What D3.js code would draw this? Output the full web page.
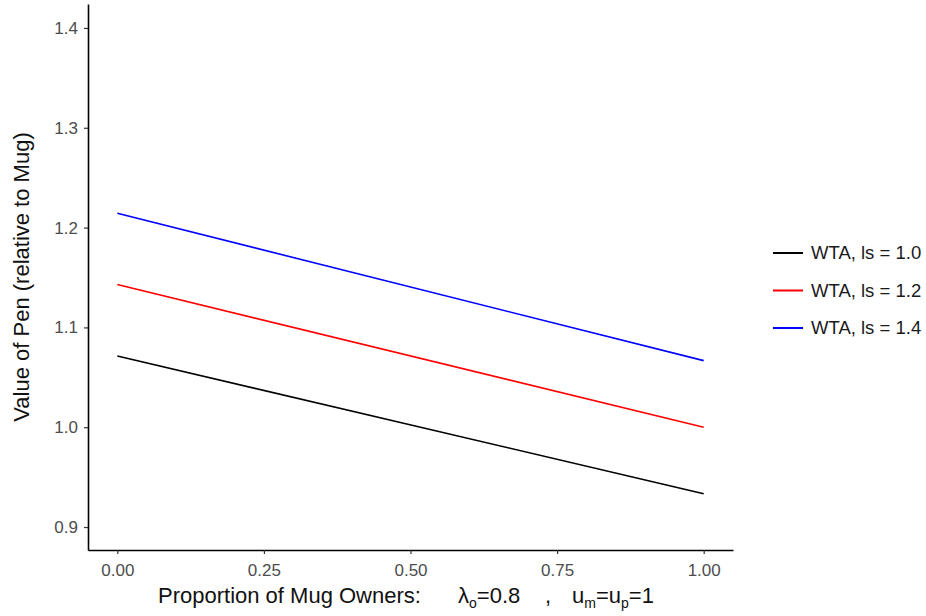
<!DOCTYPE html>
<html>
<head>
<meta charset="utf-8">
<script src="https://cdn.jsdelivr.net/npm/d3@7"></script>
<style>
  body { margin: 0; background: #fff; }
  svg { font-family: "Liberation Sans", Arial, sans-serif; }
  .tick line { stroke: #333; stroke-width: 1.2px; }
  .domain { stroke: #000; stroke-width: 1.6px; }
</style>
</head>
<body>
<svg width="926" height="616"></svg>
<script>
// proportion of mug owners (x) and the value of the pen for each series
const owners = [0, 1];
const wtaLs10 = [1.0714, 0.9333];
const wtaLs12 = [1.1429, 1.0];
const wtaLs14 = [1.2143, 1.0667];

const seriesNames = ["WTA, ls = 1.0", "WTA, ls = 1.2", "WTA, ls = 1.4"];
const seriesColors = ["#000000", "#ff0000", "#0000ff"];

const xTicks = [0, 0.25, 0.5, 0.75, 1];
const yTicks = [0.9, 1.0, 1.1, 1.2, 1.3, 1.4];

const series = [wtaLs10, wtaLs12, wtaLs14].map((vals, i) => ({
    name: seriesNames[i],
    color: seriesColors[i],
    points: owners.map((x, j) => ({ x: x, y: vals[j] }))
}));

const svg = d3.select("svg");

const xScale = d3.scaleLinear()
    .domain([-0.05, 1.05])
    .range([88, 733]);

const yScale = d3.scaleLinear()
    .domain([0.877, 1.424])
    .range([550, 4]);

const line = d3.line()
    .x((d) => xScale(d.x))
    .y((d) => yScale(d.y));

svg.append("g")
    .attr("transform", "translate(0,550)")
    .call(d3.axisBottom(xScale)
        .tickValues(xTicks)
        .tickFormat(d3.format(".2f"))
        .tickSize(4)
        .tickSizeOuter(0))
    .call((g) => g.selectAll(".tick text")
        .attr("y", 26).attr("dy", 0)
        .style("font-size", "17px").style("fill", "#4d4d4d"));

svg.append("g")
    .attr("transform", "translate(88,0)")
    .call(d3.axisLeft(yScale)
        .tickValues(yTicks)
        .tickFormat(d3.format(".1f"))
        .tickSize(4)
        .tickSizeOuter(0))
    .call((g) => g.selectAll(".tick text")
        .attr("x", -10)
        .style("font-size", "17px").style("fill", "#4d4d4d"));

svg.selectAll(".series")
    .data(series)
    .enter().append("path")
    .attr("class", "series")
    .attr("d", (d) => line(d.points))
    .attr("fill", "none")
    .attr("stroke", (d) => d.color)
    .attr("stroke-width", 1.6);

// y title
svg.append("text")
    .attr("transform", "translate(29,277) rotate(-90)")
    .attr("text-anchor", "middle")
    .style("font-size", "22px")
    .style("fill", "#111")
    .text("Value of Pen (relative to Mug)");

// x title, in pieces with subscripts
const xTitle = svg.append("g").style("font-size", "22px").style("fill", "#111");

xTitle.append("text")
    .attr("x", 158).attr("y", 603)
    .text("Proportion of Mug Owners:");

const lam = xTitle.append("text").attr("x", 458).attr("y", 603);
lam.append("tspan").text("λ");
lam.append("tspan").attr("dy", 5).style("font-size", "14px").text("o");
lam.append("tspan").attr("dy", -5).text("=0.8");

xTitle.append("text").attr("x", 545).attr("y", 603).text(",");

const um = xTitle.append("text").attr("x", 572).attr("y", 603);
um.append("tspan").text("u");
um.append("tspan").attr("dy", 5).style("font-size", "14px").text("m");
um.append("tspan").attr("dy", -5).text("=u");
um.append("tspan").attr("dy", 5).style("font-size", "14px").text("p");
um.append("tspan").attr("dy", -5).text("=1");

// legend
const legend = svg.selectAll(".legend")
    .data(series)
    .enter().append("g")
    .attr("class", "legend")
    .attr("transform", (d, i) => `translate(773,${253 + i * 37.5})`);

legend.append("line")
    .attr("x1", 0).attr("x2", 30)
    .attr("stroke", (d) => d.color)
    .attr("stroke-width", 2);

legend.append("text")
    .attr("x", 38)
    .attr("dy", "0.35em")
    .style("font-size", "18.5px")
    .style("fill", "#1a1a1a")
    .text((d) => d.name);
</script>
</body>
</html>
